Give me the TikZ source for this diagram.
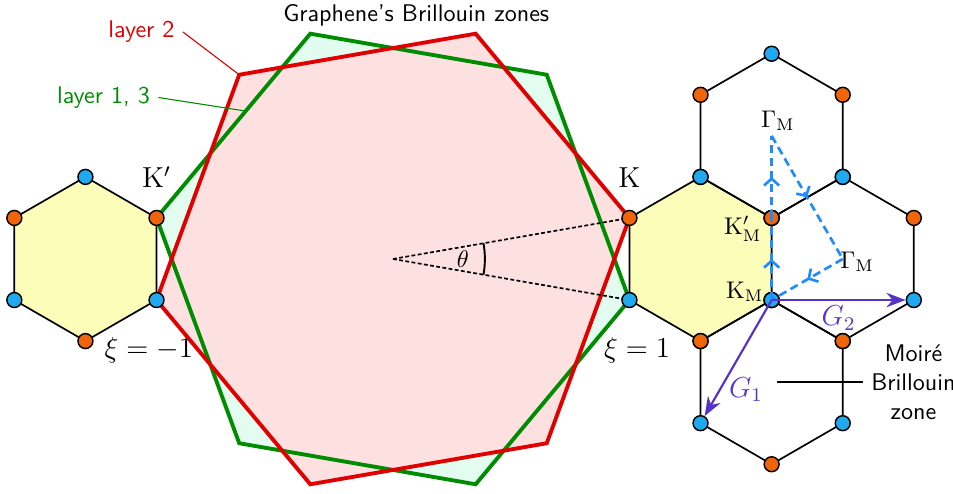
\documentclass[tikz,border=0pt]{standalone}
\usepackage{amsmath,amssymb}
\usepackage{tikz}
\usetikzlibrary{arrows.meta,positioning,calc,decorations.markings}
\definecolor{bzred}{HTML}{E00000}
\definecolor{bzgreen}{HTML}{008C00}
\definecolor{bzpink}{HTML}{FDE1E1}
\definecolor{bzmint}{HTML}{E2FCEF}
\definecolor{hexyel}{HTML}{FDFDBA}
\definecolor{ptorange}{HTML}{F0650A}
\definecolor{ptblue}{HTML}{1FAAF0}
\definecolor{gviol}{HTML}{5533C8}
\definecolor{kblue}{HTML}{1E8CFF}
\tikzset{
  opt/.style={circle,draw,line width=0.6pt,fill=ptorange,inner sep=0pt,minimum size=6.2pt},
  bpt/.style={circle,draw,line width=0.6pt,fill=ptblue,inner sep=0pt,minimum size=6.2pt},
  lat/.style={line width=0.7pt},
  bz/.style={line width=1.6pt},
  vez/.style={gviol,line width=0.9pt,-{Stealth[length=2.8mm,width=2.1mm]}},
  kut/.style={kblue,line width=1.1pt,dash pattern=on 3.4pt off 2pt,
    decoration={markings,mark=at position 0.5 with {\arrow{Straight Barb[length=1mm,width=2.2mm]}}},
    postaction={decorate}},
  rad/.style={line width=0.7pt,dash pattern=on 1.6pt off 1pt},
  lead/.style={line width=0.45pt},
}
\begin{document}
\begin{tikzpicture}[font=\sffamily]
  \def\Rbz{3.5} \def\tht{19.7}
  \pgfmathsetmacro\rs{2*\Rbz*sin(\tht/2)}
  \pgfmathsetmacro\cx{\Rbz*cos(\tht/2)+\rs*cos(30)}
  \useasboundingbox (-5.731,-3.413) rectangle (8.167,3.777);
  \coordinate (o) at (0,0);
  \foreach \i in {1,...,6} {
    \coordinate (r\i) at ({\tht/2+60*(\i-1)}:\Rbz);
    \coordinate (g\i) at ({-\tht/2+60*(\i-1)}:\Rbz);
  }
  % Brillouin zones of the layers
  \fill[bzmint] (g1) -- (g2) -- (g3) -- (g4) -- (g5) -- (g6) -- cycle;
  \fill[bzpink] (r1) -- (r2) -- (r3) -- (r4) -- (r5) -- (r6) -- cycle;
  \draw[bz,bzgreen] (g1) -- (g2) -- (g3) -- (g4) -- (g5) -- (g6) -- cycle;
  \draw[bz,bzred] (r1) -- (r2) -- (r3) -- (r4) -- (r5) -- (r6) -- cycle;
  \node (ttl) at (0.34,3.56) {Graphene's Brillouin zones};
  \node[bzred] (l2) at (-3.668,3.31) {layer 2};
  \draw[lead,bzred] (l2.east) -- (r3);
  \node[bzgreen] (l13) at (-4.222,2.355) {layer 1, 3};
  \coordinate (gp) at ($(g3)!0.42!(g4)$);
  \draw[lead,bzgreen] (l13.east) -- (gp);
  % twist angle
  \draw[rad] (o) -- (r1);
  \draw[rad] (o) -- (g1);
  \draw[line width=0.8pt] ({-\tht/2}:1.34) arc[start angle=-\tht/2,end angle=\tht/2,radius=1.34];
  \node (th) at (1.02,0) {$\theta$};
  % hexagons of the moire lattice
  \coordinate (hl) at (-\cx,0);
  \coordinate (hy) at (\cx,0);
  \coordinate (hu) at ($(hy)+(60:{sqrt(3)*\rs})$);
  \coordinate (hr) at ($(hy)+(0:{sqrt(3)*\rs})$);
  \coordinate (hd) at ($(hy)+(-60:{sqrt(3)*\rs})$);
  \foreach \hc/\fc in {hl/hexyel,hy/hexyel,hu/none,hr/none,hd/none}
    \draw[lat,fill=\fc] ($(\hc)+(30:\rs)$) \foreach \ang in {90,150,210,270,330} {-- ($(\hc)+(\ang:\rs)$)} -- cycle;
  \foreach \hc in {hl,hy,hu,hr,hd}
    \foreach \ang/\sty in {30/opt,90/bpt,150/opt,210/bpt,270/opt,330/bpt}
      \node[\sty] (\hc\ang) at ($(\hc)+(\ang:\rs)$) {};
  % path through the moire BZ
  \draw[kut] (hy330.center) -- (hy30.center);
  \draw[kut] (hy30.center) -- (hu);
  \draw[kut] (hu) -- (hr);
  \draw[kut] (hr) -- (hy330.center);
  \draw[vez] (hy330.center) -- node[below,inner sep=2pt,font=\large] (g2l) {$G_2$} (hr330);
  \draw[vez] (hy330.center) -- node[pos=0.77,right,font=\large] (g1l) {$G_1$} (hd210);
  % labels
  \node[font=\large,above=2mm of hy150] (kl) {$\mathrm{K}$};
  \node[font=\large,above=2mm of hl30] (kpl) {$\mathrm{K}'$};
  \node[font=\large] (xim) at (-3.56,-1.33) {$\xi=-1$};
  \node[font=\large] (xip) at (3.56,-1.33) {$\xi=1$};
  \node (gmu) at ($(hu)+(0.09,0.22)$) {$\Gamma_\mathrm{M}$};
  \node (gmr) at ($(hr)+(0.21,-0.04)$) {$\Gamma_\mathrm{M}$};
  \node (kml) at ($(hy330)+(-0.39,0.12)$) {$\mathrm{K}_\mathrm{M}$};
  \node (kpml) at ($(hy30)+(-0.42,-0.16)$) {$\mathrm{K}'_\mathrm{M}$};
  \coordinate (mz) at ($(hd)+(0.08,0)$);
  \node[align=center,right=1.33cm of hd] (mbz) {Moiré\\Brillouin\\zone};
  \draw[lat] (mz) -- (mbz.west);
\end{tikzpicture}
\end{document}
